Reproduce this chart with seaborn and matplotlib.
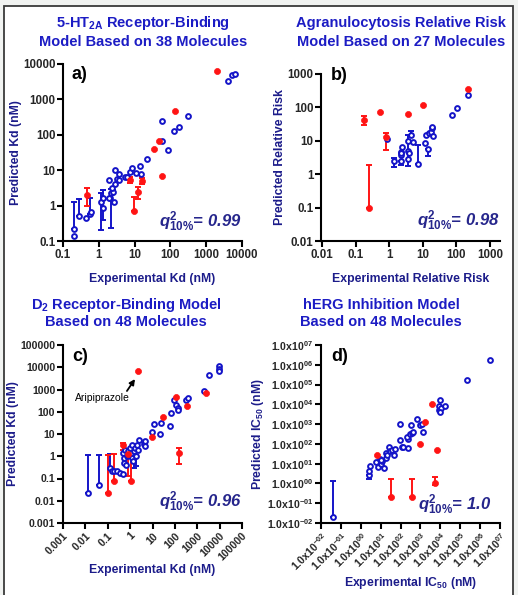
import matplotlib
matplotlib.use("Agg")
import matplotlib.pyplot as plt
import seaborn as sns
import pandas as pd
import numpy as np
from matplotlib.ticker import NullLocator, FixedLocator, FixedFormatter
from matplotlib.patches import Rectangle

sns.set_style("white")
plt.rcParams['font.family'] = ['Liberation Sans', 'DejaVu Sans']
plt.rcParams['font.weight'] = 'bold'
plt.rcParams['mathtext.fontset'] = 'custom'
plt.rcParams['mathtext.rm'] = 'Liberation Sans:bold'
plt.rcParams['mathtext.it'] = 'Liberation Sans:bold:italic'
plt.rcParams['mathtext.bf'] = 'Liberation Sans:bold'

BLUE = '#1414c8'
RED = '#ff1414'
TITLE_C = '#1c1cc4'
LABEL_C = '#1c1c8a'
Q_C = '#26268c'

# ---------------- Panel a: 5-HT2A ----------------
a_blue_x = [0.203, 0.203, 0.280, 0.438, 0.556, 0.605, 1.13, 1.31, 1.31, 1.97, 2.05, 2.19, 2.55, 2.60,
            2.84, 2.84, 3.16, 3.67, 3.75, 5.40, 6.0, 7.44, 8.65, 10.7, 14.2, 15.1, 21.7, 59.6, 59.6,
            87.5, 129, 178, 317, 4150, 5140, 6510, 1.97, 2.39]
a_blue_y = [0.214, 0.138, 0.508, 0.456, 0.566, 0.645, 1.26, 1.60, 0.875, 5.3, 1.67, 2.22, 2.48, 1.29,
            10.1, 4.07, 5.64, 7.98, 5.29, 6.43, 6.43, 8.71, 11.3, 8.17, 13.4, 7.82, 20.7, 240, 66.8,
            37.2, 128, 170, 347, 3380, 4890, 5330, 1.6, 3.08]
a_red_x = [0.46, 7.4, 9.6, 12.3, 16, 35, 49, 59, 135, 1950]
a_red_y = [2.0, 5.2, 0.7, 2.5, 4.9, 39, 66, 6.8, 480, 6300]
a_berr_x = [0.203, 0.280, 0.556, 1.13, 1.31, 2.19, 2.55]
a_berr_y = [0.214, 0.508, 0.566, 1.26, 1.60, 2.22, 2.48]
a_berr_lo = [0.214, 0.508, 0.566, 0.20, 0.39, 0.23, 2.48]
a_berr_hi = [1.26, 1.55, 1.6, 2.3, 2.7, 3.0, 2.8]
a_rerr_x = [0.46, 7.4, 9.6, 12.3, 16]
a_rerr_y = [2.0, 5.2, 0.7, 2.5, 4.9]
a_rerr_lo = [0.95, 4.3, 0.7, 1.5, 4.0]
a_rerr_hi = [3.1, 6.6, 1.7, 3.4, 6.1]

# ---------------- Panel b: Agranulocytosis ----------------
b_blue_x = [0.88, 1.40, 2.16, 2.16, 2.31, 2.42, 3.56, 3.73, 3.73, 4.38, 5.14, 7.24, 11.5, 14.7, 12.8,
            15.4, 17.7, 18.9, 18.9, 19.8, 2.25, 74.6, 103, 219, 3.8]
b_blue_y = [11.3, 2.48, 2.48, 3.76, 4.73, 6.52, 4.95, 9.87, 2.85, 14.9, 9.0, 2.07, 8.8, 5.68, 14.9,
            16.7, 18.8, 23.6, 26.5, 14.3, 4.2, 59.2, 98.2, 230, 4.2]
b_red_x = [0.18, 0.24, 0.52, 0.79, 3.5, 10, 220]
b_red_y = [42, 0.1, 74, 13, 62, 115, 355]
b_berr_x = [1.40, 2.16, 3.73, 4.38, 7.24, 14.7]
b_berr_y = [2.48, 2.48, 2.85, 14.9, 2.07, 5.68]
b_berr_lo = [1.7, 1.9, 1.8, 14.9, 2.07, 3.6]
b_berr_hi = [3.0, 2.48, 15, 19.7, 7.3, 5.68]
b_rerr_x = [0.18, 0.24, 0.79]
b_rerr_y = [42, 0.1, 13]
b_rerr_lo = [29, 0.1, 5.3]
b_rerr_hi = [55, 1.9, 17]

# ---------------- Panel c: D2 ----------------
c_blue_x = [0.0136, 0.0394, 0.126, 0.150, 0.184, 0.260, 0.366, 0.465, 0.498, 0.533, 0.552, 0.591,
            0.656, 0.703, 0.779, 0.834, 0.99, 1.10, 1.18, 1.26, 1.40, 1.55, 1.66, 1.97, 2.18, 1.77,
            2.59, 4.33, 4.63, 4.63, 9.2, 11.3, 21.0, 24.1, 60.8, 67.4, 91.8, 113, 134, 143, 316, 402,
            2010, 3370, 9440, 9440, 9440]
c_blue_y = [0.0216, 0.0528, 0.296, 0.210, 0.225, 0.210, 0.183, 0.165, 1.40, 0.834, 0.497, 1.98,
            0.419, 0.99, 1.66, 1.18, 2.35, 1.40, 3.32, 0.834, 0.591, 1.66, 2.35, 3.10, 1.98, 0.99,
            5.37, 3.56, 4.68, 2.99, 12.3, 29.1, 10.4, 31.2, 22.9, 84.9, 337, 208, 147, 124, 337, 401,
            828, 4650, 11400, 8630, 7020]
c_red_x = [2.33, 0.099, 0.197, 0.498, 0.779, 1.10, 9.86, 29.6, 117, 350, 153, 2480]
c_red_y = [7020, 0.0216, 0.080, 3.1, 1.26, 0.080, 7.08, 56.1, 445, 175, 1.45, 697]
c_berr_x = [0.0136, 0.0394, 0.126, 1.77, 1.55]
c_berr_y = [0.0216, 0.0528, 0.296, 0.99, 1.66]
c_berr_lo = [0.0216, 0.0528, 0.296, 0.35, 0.29]
c_berr_hi = [1.1, 1.1, 1.2, 0.99, 1.66]
c_rerr_x = [0.099, 0.197, 0.498, 0.779, 1.10, 153]
c_rerr_y = [0.0216, 0.080, 3.1, 1.26, 0.080, 1.45]
c_rerr_lo = [0.0216, 0.080, 2.0, 0.125, 0.080, 0.44]
c_rerr_hi = [1.1, 1.2, 4.0, 2.0, 1.3, 2.4]

# ---------------- Panel d: hERG ----------------
d_blue_x = [0.040, 2.58, 2.58, 3.01, 6.04, 7.61, 8.87, 10.8, 12.1, 14.7, 17.8, 17.8, 20.7, 27.2,
            30.5, 38.4, 52.3, 48.4, 97, 89.8, 113, 132, 227, 210, 245, 286, 321, 360, 420, 667,
            908, 1150, 1340, 8510, 9190, 8510, 11100, 9190, 17000, 226000, 2.99e6, 10.8]
d_blue_y = [0.0199, 2.75, 4.38, 7.27, 12.1, 6.73, 17.8, 9.93, 13.0, 5.98, 19.2, 35.7, 28.3, 71.9,
            41.8, 48.8, 52.7, 28.3, 163, 1047, 66.5, 71.9, 183, 231, 59.2, 314, 933, 353, 397, 1800,
            933, 1010, 397, 5350, 17100, 7890, 6500, 4070, 8540, 176000, 1.81e6, 15.8]
d_red_x = [6.78, 34.2, 389, 981, 1750, 3940, 6750, 5560]
d_red_y = [28.3, 0.196, 0.196, 102, 1220, 10800, 46.9, 1.0]
d_berr_x = [0.040, 2.58]
d_berr_y = [0.0199, 2.75]
d_berr_lo = [0.0199, 1.73]
d_berr_hi = [1.37, 2.75]
d_rerr_x = [34.2, 389, 5560]
d_rerr_y = [0.196, 0.196, 1.0]
d_rerr_lo = [0.196, 0.196, 0.85]
d_rerr_hi = [1.73, 1.73, 2.0]

# tick definitions
a_xticks = [0.1, 1, 10, 100, 1000, 10000]
a_xlabels = ['0.1', '1', '10', '100', '1000', '10000']
a_yticks = [0.1, 1, 10, 100, 1000, 10000]
a_ylabels = ['0.1', '1', '10', '100', '1000', '10000']
b_xticks = [0.01, 0.1, 1, 10, 100, 1000]
b_xlabels = ['0.01', '0.1', '1', '10', '100', '1000']
b_yticks = [0.01, 0.1, 1, 10, 100, 1000]
b_ylabels = ['0.01', '0.1', '1', '10', '100', '1000']
c_ticks = [0.001, 0.01, 0.1, 1, 10, 100, 1000, 10000, 100000]
c_labels = ['0.001', '0.01', '0.1', '1', '10', '100', '1000', '10000', '100000']
d_exps = [-2, -1, 0, 1, 2, 3, 4, 5, 6, 7]


def sci_label(e):
    s = '-%02d' % abs(e) if e < 0 else '%02d' % e
    return r'1.0x10$^{\mathrm{%s}}$' % s


W, H = 518, 595
fig = plt.figure(figsize=(W / 100, H / 100), dpi=100)
fig.patch.set_facecolor('#f1f3f1')
fig.patches.append(Rectangle((4 / W, -0.02), 509 / W, 1 - 6 / H + 0.02, transform=fig.transFigure,
                             facecolor='white', edgecolor='#3a3a3a', linewidth=1.3, zorder=-10))


def make_ax(left, top, right, bottom):
    return fig.add_axes([left / W, 1 - bottom / H, (right - left) / W, (bottom - top) / H])


def style(ax, tsize=8.3):
    ax.set_facecolor('none')
    for s in ['top', 'right']:
        ax.spines[s].set_visible(False)
    for s in ['left', 'bottom']:
        ax.spines[s].set_visible(True)
        ax.spines[s].set_color('black')
        ax.spines[s].set_linewidth(1.5)
    ax.tick_params(axis='both', which='major', direction='out', length=4, width=1.5,
                   color='black', labelsize=tsize, pad=1.5, left=True, bottom=True)
    for lab in ax.get_xticklabels() + ax.get_yticklabels():
        lab.set_fontweight('bold')
    ax.xaxis.set_minor_locator(NullLocator())
    ax.yaxis.set_minor_locator(NullLocator())


def draw(ax, bx, by, rx, ry, be, re):
    dfb = pd.DataFrame({'x': bx, 'y': by})
    dfr = pd.DataFrame({'x': rx, 'y': ry})
    for (ex, ey, elo, ehi), col in [(be, BLUE), (re, RED)]:
        ex = np.array(ex); ey = np.array(ey)
        lo = np.clip(ey - np.array(elo), 0, None)
        hi = np.clip(np.array(ehi) - ey, 0, None)
        ax.errorbar(ex, ey, yerr=[lo, hi], fmt='none', ecolor=col, elinewidth=1.4,
                    capsize=2.0, capthick=1.4, zorder=2)
    sns.scatterplot(data=dfb, x='x', y='y', ax=ax, marker='o', s=12, color='white',
                    edgecolor=BLUE, linewidth=1.4, zorder=3, legend=False)
    sns.scatterplot(data=dfr, x='x', y='y', ax=ax, marker='o', s=19, color=RED,
                    edgecolor=RED, linewidth=0.5, zorder=4, legend=False)
    ax.set_xscale('log')
    ax.set_yscale('log')


def set_ticks(ax, xt, xl, yt, yl, xrot=0):
    ax.xaxis.set_major_locator(FixedLocator(xt))
    ax.xaxis.set_major_formatter(FixedFormatter(xl))
    ax.yaxis.set_major_locator(FixedLocator(yt))
    ax.yaxis.set_major_formatter(FixedFormatter(yl))
    if xrot:
        for lab in ax.get_xticklabels():
            lab.set_rotation(45)
            lab.set_ha('right')
            lab.set_rotation_mode('anchor')


def qtext(ax, val, x, y):
    ax.text(x, y, r'$q^{2}_{10\%}$' + '= ' + val, transform=ax.transAxes, ha='right', va='center',
            fontsize=12, fontweight='bold', fontstyle='italic', color=Q_C)


def plabel(ax, s, x, y):
    ax.text(x, y, s, transform=ax.transAxes, ha='left', va='center', fontsize=13,
            fontweight='bold', color='black')


lab_kw = dict(fontsize=8.8, fontweight='bold', color=LABEL_C)
title_kw = dict(fontsize=10.5, fontweight='bold', color=TITLE_C, ha='center', va='center')

# ---- a
ax = make_ax(63, 64, 242, 241)
draw(ax, a_blue_x, a_blue_y, a_red_x, a_red_y,
     (a_berr_x, a_berr_y, a_berr_lo, a_berr_hi), (a_rerr_x, a_rerr_y, a_rerr_lo, a_rerr_hi))
ax.set_xlim(0.1, 10000); ax.set_ylim(0.1, 10000)
set_ticks(ax, a_xticks, a_xlabels, a_yticks, a_ylabels)
style(ax)
ax.set_xlabel('Experimental Kd (nM)', labelpad=9, **lab_kw)
ax.set_ylabel('Predicted Kd (nM)', labelpad=0.5, **lab_kw)
qtext(ax, '0.99', 1.0, 0.11)
plabel(ax, 'a)', 0.05, 0.94)
fig.text(143 / W, 1 - 23 / H, r'5-HT$_{\mathrm{2A}}$ Receptor-Binding', **title_kw)
fig.text(143 / W, 1 - 42 / H, 'Model Based on 38 Molecules', **title_kw)

# ---- b
ax = make_ax(321, 74, 500, 241)
draw(ax, b_blue_x, b_blue_y, b_red_x, b_red_y,
     (b_berr_x, b_berr_y, b_berr_lo, b_berr_hi), (b_rerr_x, b_rerr_y, b_rerr_lo, b_rerr_hi))
ax.set_xlim(0.0092, 2000); ax.set_ylim(0.01, 1000)
set_ticks(ax, b_xticks, b_xlabels, b_yticks, b_ylabels)
style(ax)
ax.set_xlabel('Experimental Relative Risk', labelpad=9, **lab_kw)
ax.set_ylabel('Predicted Relative Risk', labelpad=1, **lab_kw)
qtext(ax, '0.98', 1.0, 0.12)
plabel(ax, 'b)', 0.056, 0.99)
fig.text(401 / W, 1 - 23 / H, 'Agranulocytosis Relative Risk', **title_kw)
fig.text(401 / W, 1 - 42 / H, 'Model Based on 27 Molecules', **title_kw)

# ---- c
ax = make_ax(63, 345, 242, 523)
draw(ax, c_blue_x, c_blue_y, c_red_x, c_red_y,
     (c_berr_x, c_berr_y, c_berr_lo, c_berr_hi), (c_rerr_x, c_rerr_y, c_rerr_lo, c_rerr_hi))
ax.set_xlim(0.001, 100000); ax.set_ylim(0.001, 100000)
set_ticks(ax, c_ticks, c_labels, c_ticks, c_labels, xrot=45)
style(ax, tsize=7.6)
ax.set_xlabel('Experimental Kd (nM)', labelpad=1, **lab_kw)
ax.set_ylabel('Predicted Kd (nM)', labelpad=1, **lab_kw)
qtext(ax, '0.96', 1.0, 0.118)
plabel(ax, 'c)', 0.05, 0.933)
ax.text(0.0553, 415, 'Aripiprazole', ha='center', va='center', fontsize=7.5,
        fontweight='normal', color='black')
ax.annotate('', xy=(1.65, 2950), xytext=(0.72, 857),
            arrowprops=dict(arrowstyle='-|>', lw=1.3, color='black', mutation_scale=8,
                            shrinkA=0, shrinkB=0))
fig.text(126 / W, 1 - 305 / H, r'D$_{\mathrm{2}}$ Receptor-Binding Model', **title_kw)
fig.text(126 / W, 1 - 322 / H, 'Based on 48 Molecules', **title_kw)

# ---- d
ax = make_ax(321, 345, 500, 523)
draw(ax, d_blue_x, d_blue_y, d_red_x, d_red_y,
     (d_berr_x, d_berr_y, d_berr_lo, d_berr_hi), (d_rerr_x, d_rerr_y, d_rerr_lo, d_rerr_hi))
ax.set_xlim(1e-2, 1e7); ax.set_ylim(1e-2, 1e7)
d_ticks = [10.0 ** e for e in d_exps]
d_labels = [sci_label(e) for e in d_exps]
set_ticks(ax, d_ticks, d_labels, d_ticks, d_labels, xrot=45)
style(ax, tsize=7.6)
ax.set_xlabel(r'Experimental IC$_{\mathrm{50}}$ (nM)', labelpad=1, **lab_kw)
ax.set_ylabel(r'Predicted IC$_{\mathrm{50}}$ (nM)', labelpad=0.5, **lab_kw)
qtext(ax, '1.0', 0.95, 0.10)
plabel(ax, 'd)', 0.056, 0.933)
fig.text(381 / W, 1 - 305 / H, 'hERG Inhibition Model', **title_kw)
fig.text(381 / W, 1 - 322 / H, 'Based on 48 Molecules', **title_kw)

fig.savefig('out.png', dpi=100, facecolor=fig.get_facecolor())
